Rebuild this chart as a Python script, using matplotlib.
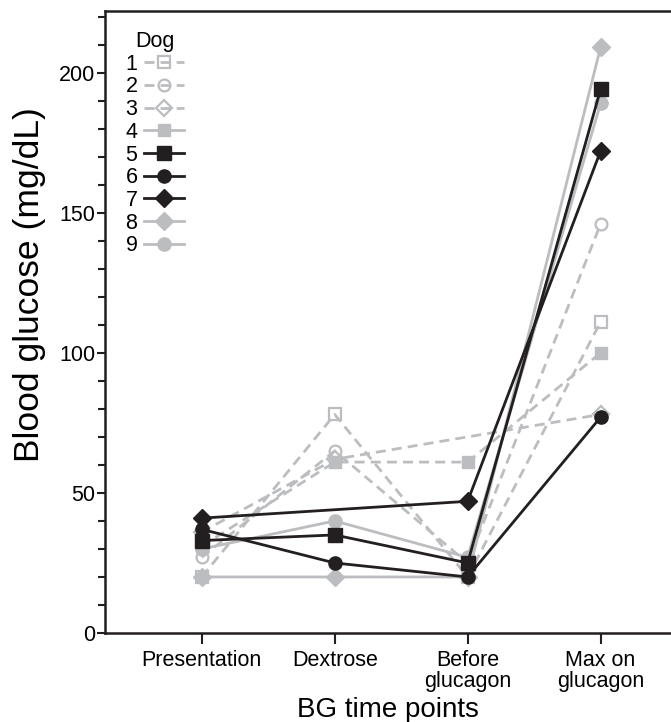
import numpy as np
import matplotlib
matplotlib.use("Agg")
import matplotlib.pyplot as plt
from matplotlib.lines import Line2D
from matplotlib.ticker import MultipleLocator

plt.rcParams["font.family"] = ["Liberation Sans", "DejaVu Sans"]

time_points = ["Presentation", "Dextrose", "Before\nglucagon", "Max on\nglucagon"]
dogs = ["1", "2", "3", "4", "5", "6", "7", "8", "9"]

# blood glucose per dog (mg/dL), nan = not measured
dog1 = [20, 78, 20, 111]
dog2 = [27, 65, 25, 146]
dog3 = [36, 62, np.nan, 78]
dog4 = [31, 61, 61, 100]
dog5 = [33, 35, 25, 194]
dog6 = [37, 25, 20, 77]
dog7 = [41, np.nan, 47, 172]
dog8 = [20, 20, 20, 209]
dog9 = [30, 40, 27, 189]
values = [dog1, dog2, dog3, dog4, dog5, dog6, dog7, dog8, dog9]

GRAY = "#bcbdc0"
BLACK = "#231f20"
DASH = (0, (3.6, 2.2))

colors = [GRAY, GRAY, GRAY, GRAY, BLACK, BLACK, BLACK, GRAY, GRAY]
markers = ["s", "o", "D", "s", "s", "o", "D", "D", "o"]
hollow = [True, True, True, False, False, False, False, False, False]
plot_ls = [DASH, DASH, DASH, DASH, "-", "-", "-", "-", "-"]
legend_ls = [DASH, DASH, DASH, "-", "-", "-", "-", "-", "-"]
msizes = [8.5, 8.5, 8, 9, 9.5, 9.5, 9.5, 9.5, 9.5]

fig = plt.figure(figsize=(6.71, 7.22), dpi=100)
ax = fig.add_axes([105 / 671, 89 / 722, 1 - 105 / 671, 622 / 722])

x = np.arange(len(time_points))
order = [7, 8, 0, 1, 2, 3, 5, 4, 6]
for i in order:
    y = np.asarray(values[i], dtype=float)
    ok = ~np.isnan(y)
    ax.plot(x[ok], y[ok], color=colors[i], linestyle=plot_ls[i], linewidth=2,
            marker=markers[i], markersize=msizes[i],
            markerfacecolor="none" if hollow[i] else colors[i],
            markeredgecolor=colors[i], markeredgewidth=1.6 if hollow[i] else 1,
            zorder=3 if colors[i] == BLACK else 2)

handles = []
for i in range(len(dogs)):
    handles.append(Line2D([], [], color=colors[i], linestyle=legend_ls[i], linewidth=2,
                          marker=markers[i], markersize=msizes[i],
                          markerfacecolor="none" if hollow[i] else colors[i],
                          markeredgecolor=colors[i], markeredgewidth=1.6 if hollow[i] else 1))
leg = ax.legend(handles, dogs, title="Dog", loc="upper left", bbox_to_anchor=(0.036, 0.968),
                frameon=False, markerfirst=False, fontsize=15.5, title_fontsize=15.5,
                handlelength=1.85, handletextpad=0.3, labelspacing=0.08, borderpad=0,
                borderaxespad=0)

ax.set_xlim(-0.728, 3.53)
ax.set_ylim(0, 222)
ax.set_xticks(x)
ax.set_xticklabels(time_points, fontsize=15.5, linespacing=1.0)
ax.yaxis.set_major_locator(MultipleLocator(50))
ax.yaxis.set_minor_locator(MultipleLocator(10))
ax.tick_params(axis="y", labelsize=15.5, direction="out", length=6, width=1.5, color=BLACK, pad=1)
ax.tick_params(axis="y", which="minor", direction="out", length=5, width=1.5, color=BLACK)
ax.tick_params(axis="x", direction="out", length=8, width=1.5, color=BLACK, pad=4)

for side in ("left", "bottom", "top"):
    ax.spines[side].set_linewidth(1.8)
    ax.spines[side].set_color(BLACK)
ax.spines["right"].set_visible(False)

ax.set_ylabel("Blood glucose (mg/dL)", fontsize=25.5)
ax.yaxis.set_label_coords(-0.104, 0.56)
ax.set_xlabel("BG time points", fontsize=20, labelpad=4)

fig.savefig("out.png", dpi=100)
